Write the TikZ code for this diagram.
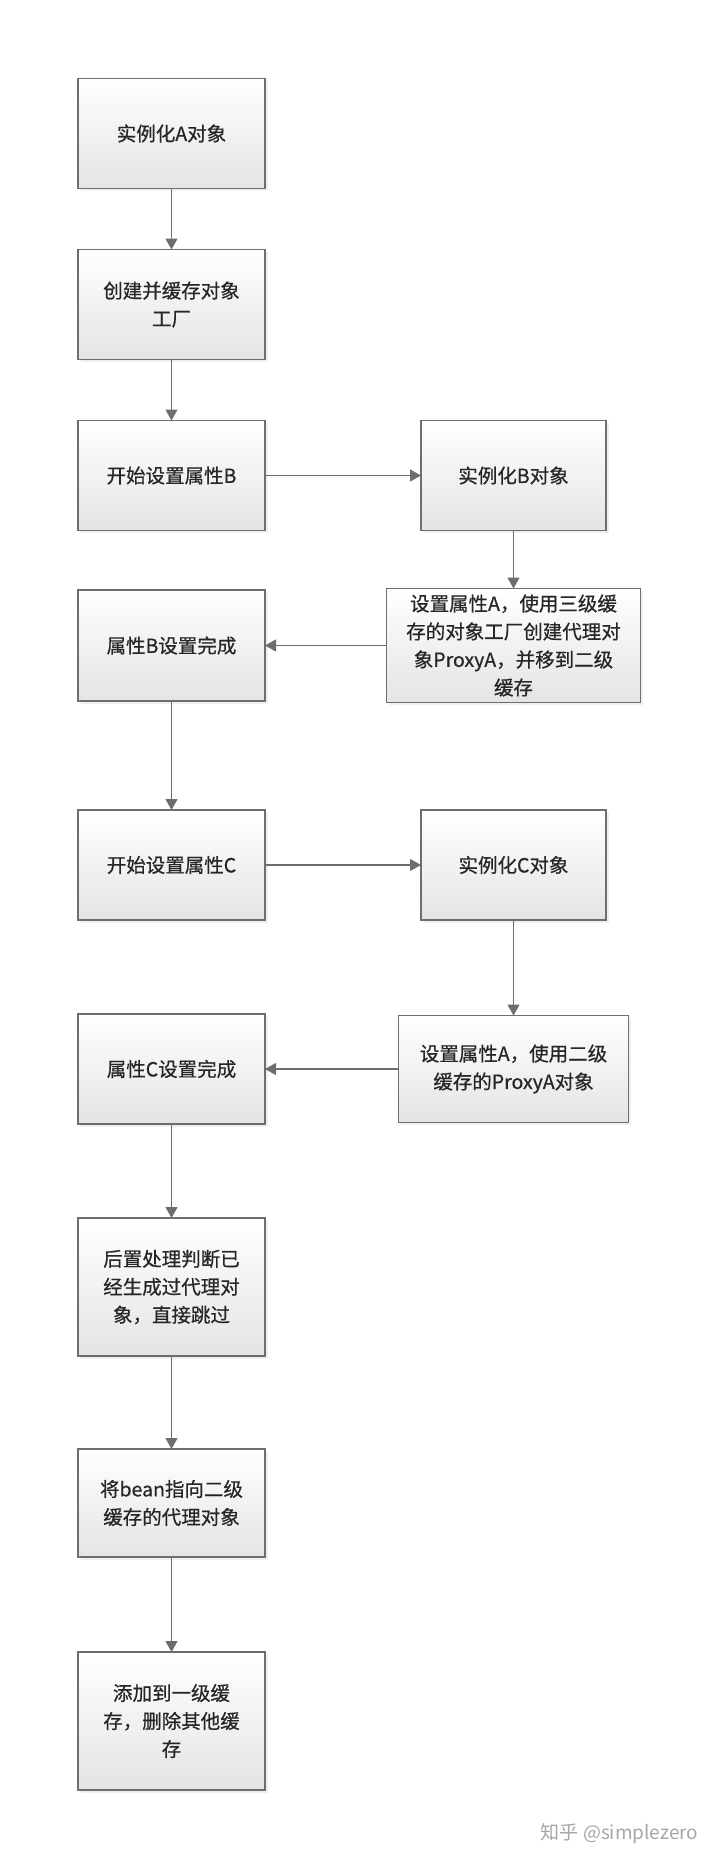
\documentclass[tikz,border=0pt]{standalone}
\usepackage{fontspec}
\newfontfamily\cjk[FakeBold=0.6]{Noto Sans CJK SC}
\newfontfamily\cjkmark{Noto Sans CJK SC}
\usetikzlibrary{arrows.meta, positioning, shadows}
\definecolor{linegray}{HTML}{6E6E6E}
\definecolor{boxbottom}{HTML}{E4E4E4}
\definecolor{textgray}{HTML}{262626}

\begin{document}
\begin{tikzpicture}[
  node distance=61pt and 156pt,
  box/.style={draw=linegray, line width=1.2pt, top color=white, bottom color=boxbottom,
    drop shadow={shadow xshift=2.5pt, shadow yshift=-2.5pt, fill=black!12},
    minimum height=110pt, minimum width=187pt, inner sep=0pt, outer sep=0pt, align=center,
    font=\cjk\fontsize{19.5}{28}\selectfont, text=textgray},
  arr/.style={-{Triangle[length=11pt, width=12pt]}, line width=1.2pt, draw=linegray}
]
\useasboundingbox (0,0) rectangle (720pt,-1866pt);
\node[box] (instA) at (171.5pt,-133.5pt) {实例化A对象};
\node[box, below=of instA] (factory) {创建并缓存对象\\工厂};
\node[box, below=of factory] (setB) {开始设置属性B};
\node[box, right=of setB, minimum width=185pt] (instB) {实例化B对象};
\node[box, below=58pt of instB, minimum width=254pt, minimum height=114pt] (proxyA)
  {设置属性A，使用三级缓\\存的对象工厂创建代理对\\象ProxyA，并移到二级\\缓存};
\node[box, minimum height=111pt] (doneB) at (setB |- proxyA) {属性B设置完成};
\node[box, below=109pt of doneB] (setC) {开始设置属性C};
\node[box, right=of setC, minimum width=185pt] (instC) {实例化C对象};
\node[box, below=94pt of setC] (doneC) {属性C设置完成};
\node[box, minimum width=230pt, minimum height=107pt] (useA) at (instC |- doneC)
  {设置属性A，使用二级\\缓存的ProxyA对象};
\node[box, below=94pt of doneC, minimum height=138pt] (post) {后置处理判断已\\经生成过代理对\\象，直接跳过};
\node[box, below=93pt of post, minimum height=108pt] (bean) {将bean指向二级\\缓存的代理对象};
\node[box, below=95pt of bean, minimum height=138pt] (addL1) {添加到一级缓\\存，删除其他缓\\存};
\node[font=\cjkmark\fontsize{19}{22}\selectfont, text=black!35, anchor=east] (mark) at (702pt,-1834pt) {知乎 @simplezero};
\draw[arr] (instA) -- (factory);
\draw[arr] (factory) -- (setB);
\draw[arr] (setB) -- (instB);
\draw[arr] (instB) -- (proxyA);
\draw[arr] (proxyA) -- (doneB);
\draw[arr] (doneB) -- (setC);
\draw[arr] (setC) -- (instC);
\draw[arr] (instC) -- (useA);
\draw[arr] (useA) -- (doneC);
\draw[arr] (doneC) -- (post);
\draw[arr] (post) -- (bean);
\draw[arr] (bean) -- (addL1);
\end{tikzpicture}
\end{document}
